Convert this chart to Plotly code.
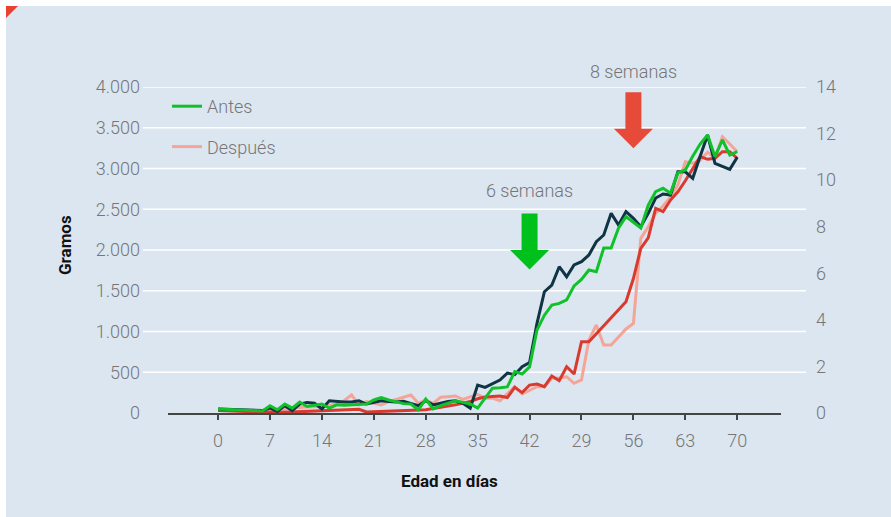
import plotly.graph_objects as go

# ---------------- data ----------------
antes_x = [0, 6, 7, 8, 9, 10, 11, 12, 13, 14, 15, 16, 17, 18, 19, 20, 21, 22, 23, 24, 25, 26, 27, 28, 29, 30,
           31, 32, 33, 34, 35, 36, 37, 38, 39, 40, 41, 42, 43, 44, 45, 46, 47, 48, 49, 50, 51, 52, 53, 54, 55,
           56, 57, 58, 59, 60, 61, 62, 63, 64, 65, 66, 67, 68, 69, 70]
antes_y = [50, 25, 90, 40, 110, 60, 135, 80, 95, 110, 60, 100, 95, 100, 105, 110, 160, 190, 160, 135, 115, 110,
           40, 170, 50, 90, 120, 150, 130, 110, 60, 180, 305, 310, 320, 507, 478, 565, 1018, 1200, 1325, 1345,
           1387, 1560, 1640, 1755, 1734, 2025, 2025, 2270, 2409, 2340, 2270, 2550, 2715, 2757, 2696, 2945, 2982,
           3150, 3300, 3411, 3145, 3350, 3166, 3206]

antes2_x = [0, 6, 7, 8, 9, 10, 11, 12, 13, 14, 15, 16, 17, 18, 19, 20, 21, 22, 23, 24, 25, 26, 27, 28, 29, 30,
            31, 32, 33, 34, 35, 36, 37, 38, 39, 40, 41, 42, 43, 44, 45, 46, 47, 48, 49, 50, 51, 52, 53, 54, 55,
            56, 57, 58, 59, 60, 61, 62, 63, 64, 65, 66, 67, 68, 69, 70]
antes2_y = [50, 30, 60, 20, 90, 30, 110, 130, 120, 50, 150, 140, 135, 135, 150, 110, 130, 150, 140, 135, 145,
            120, 90, 150, 100, 120, 140, 150, 120, 60, 343, 315, 360, 405, 490, 470, 568, 620, 1100, 1488, 1570,
            1795, 1672, 1816, 1857, 1939, 2102, 2184, 2450, 2307, 2470, 2389, 2286, 2450, 2638, 2687, 2675,
            2960, 2960, 2880, 3150, 3411, 3064, 3030, 2990, 3137]

despues_x = [0, 7, 8, 10, 12, 14, 16, 17, 18, 19, 20, 21, 22, 23, 24, 25, 26, 27, 28, 29, 30, 31, 32, 33, 34,
             35, 36, 37, 38, 39, 40, 41, 42, 43, 44, 45, 46, 47, 48, 49, 50, 51, 52, 53, 55, 56, 57, 58, 59, 60,
             61, 62, 63, 64, 65, 66, 67, 68, 69, 70]
despues_y = [40, 20, 30, 60, 75, 80, 110, 150, 221, 98, 139, 120, 98, 140, 170, 200, 221, 119, 160, 119, 193,
             200, 209, 168, 200, 229, 180, 184, 150, 241, 323, 233, 280, 323, 323, 425, 430, 445, 364, 405, 896,
             1080, 834, 834, 1031, 1100, 2143, 2286, 2450, 2540, 2650, 2800, 3083, 3064, 3100, 3200, 3125, 3390,
             3300, 3206]

despues2_x = [0, 8, 19, 20, 28, 32, 34, 35, 36, 37, 38, 39, 40, 41, 42, 43, 44, 45, 46, 47, 48, 49, 50, 55, 56,
              57, 58, 59, 60, 61, 62, 63, 64, 65, 66, 67, 68, 69, 70]
despues2_y = [30, 5, 45, 12, 40, 100, 140, 175, 195, 205, 209, 190, 315, 250, 343, 356, 323, 454, 396, 568, 478,
              875, 875, 1366, 1650, 2021, 2150, 2512, 2470, 2613, 2715, 2850, 2990, 3145, 3113, 3125, 3206, 3206,
              3125]

x_tickvals = [0, 7, 14, 21, 28, 35, 42, 49, 56, 63, 70]
x_ticktext = ["0", "7", "14", "21", "28", "35", "42", "29", "56", "63", "70"]
y_tickvals = [0, 500, 1000, 1500, 2000, 2500, 3000, 3500, 4000]
y_ticktext = ["0", "500", "1.000", "1.500", "2.000", "2.500", "3.000", "3.500", "4.000"]
y2_tickvals = [0, 2, 4, 6, 8, 10, 12, 14]

arrow_days = [42, 56]
arrow_tips = [1761, 3248]
arrow_labels = ["6 semanas", "8 semanas"]

# ---------------- style ----------------
BG = "#dce6f1"
FONT = "Roboto, sans-serif"
TICKC = "#767676"
GREEN = "#10c22a"
NAVY = "#0f3444"
RED = "#d83a30"
PINK = "#f4a598"
ARROW_G = "#00c01b"
ARROW_R = "#e64b39"
TF = dict(family=FONT, size=18, color=TICKC, weight=300)
LW = 3

W, H = 891, 517
ML, MR, MT, MB = 168, 110, 87, 104
PW = W - ML - MR
PH = H - MT - MB


def px_x(p):
    return (p - ML) / PW


def px_y(p):
    return (H - MB - p) / PH


fig = go.Figure()
fig.add_trace(go.Scatter(x=despues_x, y=despues_y, mode="lines", name="Después", legendgroup="b",
                         line=dict(color=PINK, width=LW), legendrank=2))
fig.add_trace(go.Scatter(x=despues2_x, y=despues2_y, mode="lines", name="Después 2", showlegend=False,
                         line=dict(color=RED, width=LW)))
fig.add_trace(go.Scatter(x=antes2_x, y=antes2_y, mode="lines", name="Antes 2", showlegend=False,
                         line=dict(color=NAVY, width=LW)))
fig.add_trace(go.Scatter(x=antes_x, y=antes_y, mode="lines", name="Antes", legendgroup="a",
                         line=dict(color=GREEN, width=LW), legendrank=1))
fig.add_trace(go.Scatter(x=[None], y=[None], yaxis="y2", showlegend=False, hoverinfo="skip"))

shapes = []
# page frame: white strips top/left, red corner
shapes.append(dict(type="rect", xref="paper", yref="paper", x0=px_x(0), x1=px_x(W), y0=px_y(0), y1=px_y(6),
                   fillcolor="white", line=dict(width=0), layer="below"))
shapes.append(dict(type="rect", xref="paper", yref="paper", x0=px_x(0), x1=px_x(6), y0=px_y(0), y1=px_y(H),
                   fillcolor="white", line=dict(width=0), layer="below"))
shapes.append(dict(type="path", xref="paper", yref="paper",
                   path=f"M{px_x(6)},{px_y(6)} L{px_x(18)},{px_y(6)} L{px_x(6)},{px_y(18)} Z",
                   fillcolor="#e8412f", line=dict(width=0)))
# gridlines extending beyond the plot
for v in y_tickvals[1:]:
    shapes.append(dict(type="line", xref="paper", yref="y", x0=-25 / PW, x1=1 + 25 / PW, y0=v, y1=v,
                       line=dict(color="white", width=1.6), layer="below"))
# block arrows
arrow_path = "M0,0 L-19.5,19.5 L-8,19.5 L-8,56 L8,56 L8,19.5 L19.5,19.5 Z"
for d, t, c in zip(arrow_days, arrow_tips, [ARROW_G, ARROW_R]):
    shapes.append(dict(type="path", xref="x", yref="y", xsizemode="pixel", ysizemode="pixel",
                       xanchor=d, yanchor=t, path=arrow_path, fillcolor=c, line=dict(width=0)))

annotations = [
    dict(x=arrow_days[0], y=2736, xref="x", yref="y", text=arrow_labels[0], showarrow=False,
         font=TF, xanchor="center", yanchor="middle"),
    dict(x=arrow_days[1], y=px_y(71), xref="x", yref="paper", text=arrow_labels[1],
         showarrow=False, font=TF, xanchor="center", yanchor="middle"),
    dict(x=px_x(449), y=px_y(481), xref="paper", yref="paper", text="<b>Edad en días</b>", showarrow=False,
         font=dict(family=FONT, size=17, color="#111111"), xanchor="center", yanchor="middle"),
    dict(x=px_x(65), y=px_y(245), xref="paper", yref="paper", text="<b>Gramos</b>", showarrow=False,
         textangle=-90, font=dict(family=FONT, size=17, color="#111111"), xanchor="center", yanchor="middle"),
]

fig.update_layout(
    width=W, height=H, autosize=False,
    margin=dict(l=ML, r=MR, t=MT, b=MB),
    paper_bgcolor=BG, plot_bgcolor=BG,
    font=TF,
    showlegend=True,
    legend=dict(x=px_x(167), y=px_y(88), xanchor="left", yanchor="top", bgcolor="rgba(0,0,0,0)",
                font=TF, tracegroupgap=14, itemwidth=30, traceorder="grouped"),
    xaxis=dict(range=[-6.75, 75.9], tickvals=x_tickvals, ticktext=x_ticktext, showgrid=False, zeroline=False,
               showline=True, linecolor="#454545", linewidth=1.5, ticks="outside", ticklen=5,
               tickcolor="#454545", tickwidth=1.5, tickfont=TF, ticklabelstandoff=6),
    yaxis=dict(range=[0, 4000], tickvals=y_tickvals, ticktext=y_ticktext, showgrid=False, zeroline=False,
               showline=False, ticks="", tickfont=TF, ticklabelstandoff=27),
    yaxis2=dict(range=[0, 14], tickvals=y2_tickvals, overlaying="y", side="right", showgrid=False,
                zeroline=False, showline=False, ticks="", tickfont=TF, ticklabelstandoff=34),
    shapes=shapes,
    annotations=annotations,
)

fig.write_html("out.html", config={"displayModeBar": False},
               post_script="document.body.style.margin='0';document.body.style.padding='0';")
